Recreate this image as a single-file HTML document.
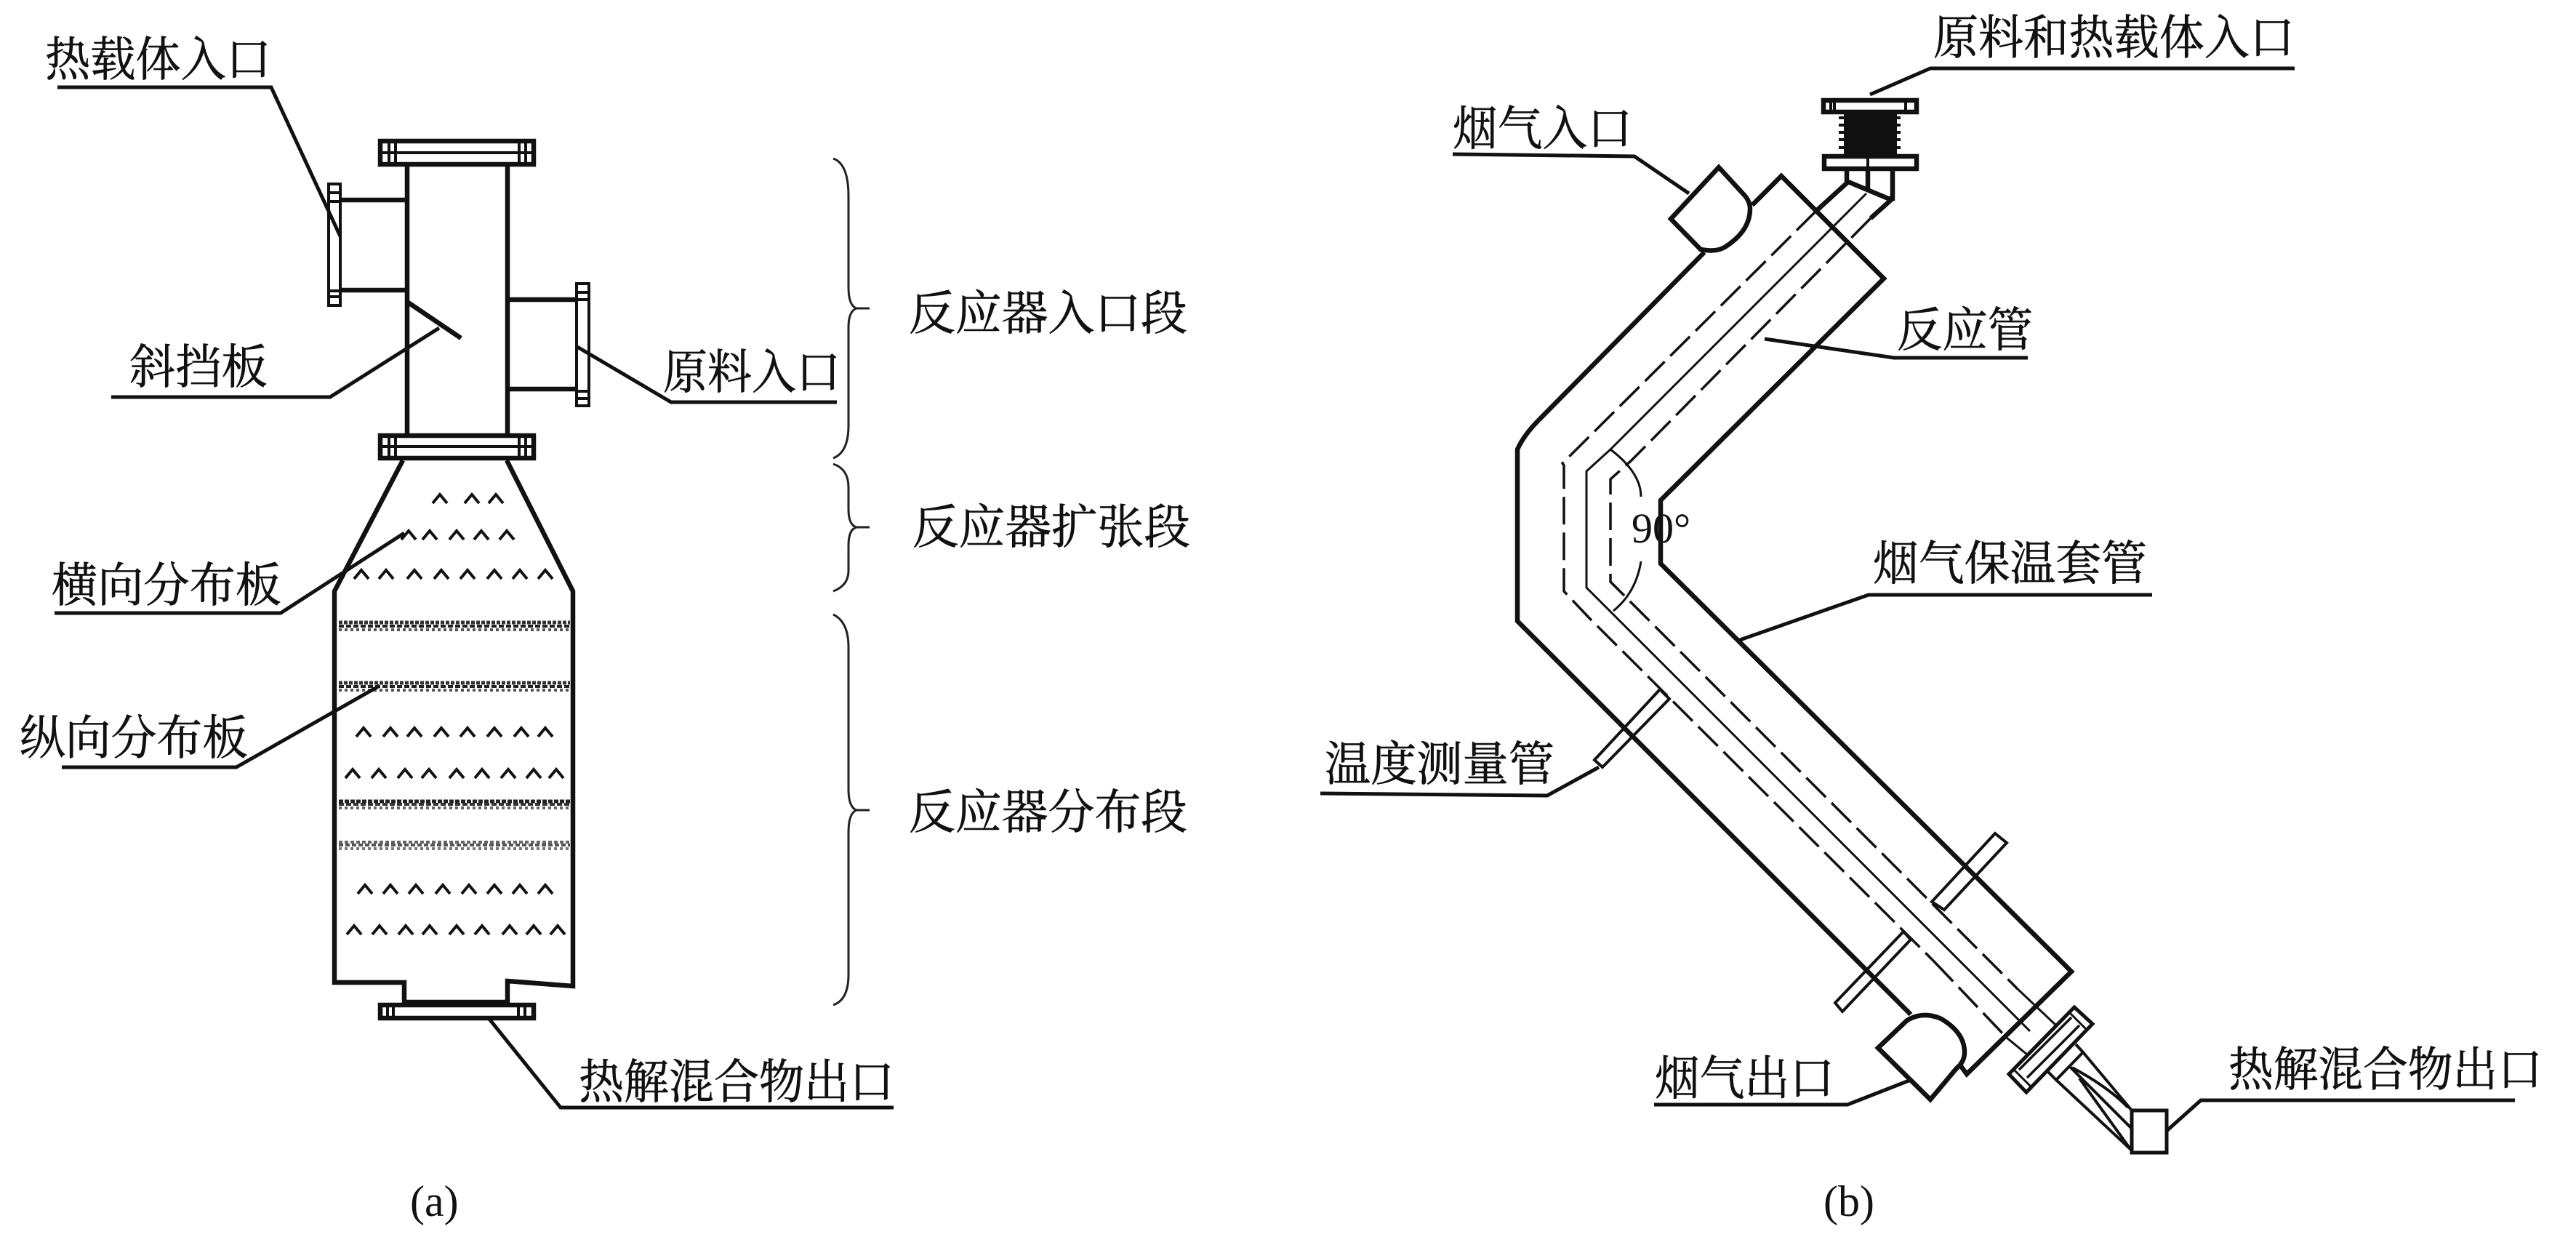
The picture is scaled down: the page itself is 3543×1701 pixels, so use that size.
<!DOCTYPE html>
<html><head><meta charset="utf-8"><style>
html,body{margin:0;padding:0;background:#fff}
svg{display:block}
.t{font-family:"Liberation Serif","Noto Serif CJK SC",serif;font-size:65px;fill:#111;stroke:#111;stroke-width:.7}
.l{font-family:"Liberation Serif",serif;font-size:60px;fill:#111}
.m{fill:none;stroke:#111;stroke-width:6.5;stroke-linejoin:miter}
.f{fill:none;stroke:#111;stroke-width:4}
.n{fill:none;stroke:#111;stroke-width:3}
.d{fill:none;stroke:#111;stroke-width:3.5;stroke-dasharray:38 11}
.ld{fill:none;stroke:#111;stroke-width:5}
.b{fill:none;stroke:#222;stroke-width:3}
</style></head><body>
<svg width="3543" height="1701" viewBox="0 0 3543 1701" xmlns="http://www.w3.org/2000/svg">
<rect width="3543" height="1701" fill="#fff"/>
<defs><path id="c" d="M-10 6 L0 -6 L10 6" fill="none" stroke="#111" stroke-width="4"/></defs>

<!-- (a) reactor -->
<path class="m" d="M560 227V597M698 227V597"/>
<rect class="m" x="523" y="194" width="211" height="32"/>
<path class="f" d="M523 210H734M535 194V226M544 194V226M714 194V226M723 194V226"/>
<rect class="m" x="523" y="599" width="211" height="31"/>
<path class="f" d="M523 614H734M535 599V630M544 599V630M714 599V630M723 599V630"/>
<path class="m" d="M468 275H560M468 399H560"/>
<rect class="f" x="452" y="253" width="16" height="167"/>
<path class="f" d="M452 265H468M452 277H468M452 400H468M452 408H468"/>
<path class="m" d="M698 412H792M698 535H792"/>
<rect class="f" x="793" y="390" width="17" height="168"/>
<path class="f" d="M793 402H810M793 412H810M793 538H810M793 548H810"/>
<path class="m" d="M560 415L634 465"/>
<path class="m" d="M554 633L460 813V1351H556V1378H698V1349L788 1356V813L697 633"/>
<rect class="m" x="523" y="1382" width="211" height="18"/>
<path class="f" d="M533 1382V1400M541 1382V1400M713 1382V1400M722 1382V1400"/>

<!-- distributor plates -->
<g fill="none">
<path d="M466 856H784" stroke="#333" stroke-width="5" stroke-dasharray="5 2"/>
<path d="M466 861H784" stroke="#222" stroke-width="4" stroke-dasharray="7 3"/>
<path d="M466 866H784" stroke="#555" stroke-width="4" stroke-dasharray="4 4"/>
<path d="M466 939H784" stroke="#333" stroke-width="5" stroke-dasharray="5 2"/>
<path d="M466 944H784" stroke="#222" stroke-width="4" stroke-dasharray="7 3"/>
<path d="M466 949H784" stroke="#555" stroke-width="4" stroke-dasharray="4 4"/>
<path d="M466 1102H784" stroke="#222" stroke-width="5" stroke-dasharray="6 2"/>
<path d="M466 1106H784" stroke="#333" stroke-width="4" stroke-dasharray="7 3"/>
<path d="M466 1111H784" stroke="#666" stroke-width="4" stroke-dasharray="4 4"/>
<path d="M466 1158H784" stroke="#666" stroke-width="4" stroke-dasharray="5 3"/>
<path d="M466 1162H784" stroke="#555" stroke-width="4" stroke-dasharray="6 3"/>
<path d="M466 1167H784" stroke="#777" stroke-width="4" stroke-dasharray="4 4"/>
</g>

<!-- chevrons -->
<use href="#c" x="605" y="686"/><use href="#c" x="649" y="686"/><use href="#c" x="682" y="686"/>
<use href="#c" x="562" y="736"/><use href="#c" x="591" y="736"/><use href="#c" x="628" y="736"/><use href="#c" x="662" y="736"/><use href="#c" x="697" y="736"/>
<use href="#c" x="497" y="790"/><use href="#c" x="531" y="790"/><use href="#c" x="570" y="790"/><use href="#c" x="607" y="790"/><use href="#c" x="643" y="790"/><use href="#c" x="680" y="790"/><use href="#c" x="715" y="790"/><use href="#c" x="750" y="790"/>
<use href="#c" x="500" y="1007"/><use href="#c" x="537" y="1007"/><use href="#c" x="570" y="1007"/><use href="#c" x="607" y="1007"/><use href="#c" x="643" y="1007"/><use href="#c" x="680" y="1007"/><use href="#c" x="717" y="1007"/><use href="#c" x="750" y="1007"/>
<use href="#c" x="485" y="1064"/><use href="#c" x="521" y="1064"/><use href="#c" x="557" y="1064"/><use href="#c" x="590" y="1064"/><use href="#c" x="628" y="1064"/><use href="#c" x="663" y="1064"/><use href="#c" x="699" y="1064"/><use href="#c" x="734" y="1064"/><use href="#c" x="765" y="1064"/>
<use href="#c" x="502" y="1223"/><use href="#c" x="537" y="1223"/><use href="#c" x="572" y="1223"/><use href="#c" x="609" y="1223"/><use href="#c" x="645" y="1223"/><use href="#c" x="680" y="1223"/><use href="#c" x="715" y="1223"/><use href="#c" x="750" y="1223"/>
<use href="#c" x="487" y="1279"/><use href="#c" x="522" y="1279"/><use href="#c" x="558" y="1279"/><use href="#c" x="591" y="1279"/><use href="#c" x="628" y="1279"/><use href="#c" x="663" y="1279"/><use href="#c" x="701" y="1279"/><use href="#c" x="734" y="1279"/><use href="#c" x="767" y="1279"/>

<!-- (a) leaders -->
<path class="ld" d="M79 120H373L468 325"/>
<path class="ld" d="M153 546H454L604 451"/>
<path class="ld" d="M794 477L923 553H1151"/>
<path class="ld" d="M75 843H386L556 733"/>
<path class="ld" d="M85 1055H325L522 943"/>
<path class="ld" d="M672 1400L771 1523H1229"/>

<!-- braces -->
<path class="b" d="M1146 218Q1167 225 1167 270V395Q1167 420 1178 424H1196M1178 424Q1167 428 1167 450V585Q1167 622 1146 630"/>
<path class="b" d="M1146 638Q1167 645 1167 670V700Q1167 722 1178 725H1196M1178 725Q1167 728 1167 750V785Q1167 805 1146 813"/>
<path class="b" d="M1146 845Q1167 855 1167 890V1085Q1167 1110 1178 1114H1196M1178 1114Q1167 1118 1167 1145V1340Q1167 1375 1146 1382"/>

<!-- (a) labels -->
<text class="t" x="62" y="104" textLength="311" lengthAdjust="spacingAndGlyphs">热载体入口</text>
<text class="t" x="178" y="527" textLength="190" lengthAdjust="spacingAndGlyphs">斜挡板</text>
<text class="t" x="912" y="534" textLength="244" lengthAdjust="spacingAndGlyphs">原料入口</text>
<text class="t" x="71" y="827" textLength="316" lengthAdjust="spacingAndGlyphs">横向分布板</text>
<text class="t" x="27" y="1037" textLength="314" lengthAdjust="spacingAndGlyphs">纵向分布板</text>
<text class="t" x="796" y="1510" textLength="434" lengthAdjust="spacingAndGlyphs">热解混合物出口</text>
<text class="t" x="1250" y="453" textLength="383" lengthAdjust="spacingAndGlyphs">反应器入口段</text>
<text class="t" x="1255" y="747" textLength="382" lengthAdjust="spacingAndGlyphs">反应器扩张段</text>
<text class="t" x="1250" y="1139" textLength="383" lengthAdjust="spacingAndGlyphs">反应器分布段</text>
<text class="l" x="564" y="1672">(a)</text>

<!-- (b) shell -->
<path class="m" d="M2410 282L2450 242L2591 383L2284 688V775L2849 1336L2705 1477L2697 1466"/>
<path class="m" d="M2344 347L2117 577Q2096 598 2087 618V854L2628 1395"/>
<!-- flue inlet -->
<path class="m" d="M2364 230L2298 301L2339 343Q2360 347 2372 340Q2407 318 2407 287Q2407 276 2397 266Z" style="fill:#fff"/>
<!-- flue outlet -->
<path class="m" d="M2583 1441L2623 1403Q2645 1390 2670 1401Q2702 1420 2702 1447Q2702 1460 2691 1469L2655 1512Z" style="fill:#fff"/>

<!-- inner pipe lines -->
<path class="n" d="M2567 266L2215 618L2182 648V808L2792 1418"/>
<path class="d" d="M2498 290L2149 637L2151 640V813L2186 850L2660 1322"/>
<path class="n" d="M2760 1427L2788 1450"/>
<path class="d" d="M2573 300L2244 633L2215 659V800L2265 850L2775 1360"/>
<path class="n" d="M2775 1360L2828 1410"/>
<path class="d" d="M2660 1322L2760 1427"/>
<!-- 90 arc -->
<path class="n" d="M2215 618Q2257 650 2257 683M2257 772Q2250 815 2219 840"/>
<text class="l" x="2244" y="746" style="font-size:58px">90°</text>

<!-- top inlet -->
<path class="m" d="M2542 250L2498 290M2603 273L2573 300"/>
<rect x="2536" y="152" width="73" height="62" fill="#111"/>
<path d="M2529 162H2536M2529 172H2536M2529 182H2536M2529 192H2536M2529 203H2536M2609 162H2614M2609 172H2614M2609 182H2614M2609 192H2614M2609 203H2614" stroke="#111" stroke-width="4" fill="none"/>
<rect class="m" x="2508" y="138" width="128" height="16" style="fill:#fff"/>
<path class="f" d="M2523 138V154M2518 138V154M2621 138V154"/>
<rect class="m" x="2509" y="215" width="127" height="17" style="fill:#fff"/>
<path class="f" d="M2569 215V232"/>
<path class="m" d="M2540 233V250L2542 250L2597 273L2603 273V233M2569 233V263"/>

<!-- temp tube and side tubes -->
<path class="f" d="M2193 1045L2283 948L2296 961L2204 1055Z"/>
<path class="f" d="M2744 1146L2760 1159L2674 1251L2657 1240Z"/>
<path class="f" d="M2618 1281L2628 1292L2534 1391L2524 1379Z"/>

<!-- bottom outlet -->
<path class="f" d="M2853 1385L2878 1408L2787 1502L2763 1477Z" style="fill:#fff;stroke-width:5"/>
<path class="f" d="M2777 1471L2849 1399M2788 1482L2860 1410" style="stroke-width:3.5"/>
<path class="f" d="M2846 1392L2870 1416M2771 1472L2794 1495" style="stroke-width:3"/>
<path class="f" d="M2855 1436L2865 1447L2828 1485L2817 1474"/>
<path class="f" d="M2865 1447L2932 1527M2828 1485L2932 1582M2847 1467L2932 1552M2850 1468Q2900 1495 2927 1523M2860 1483L2930 1580"/>
<rect class="f" x="2932" y="1527" width="48" height="58" style="stroke-width:5"/>

<!-- (b) leaders -->
<path class="ld" d="M3156 94H2655L2572 130"/>
<path class="ld" d="M1998 212L2248 215L2323 266"/>
<path class="ld" d="M2427 466L2605 492H2789"/>
<path class="ld" d="M2960 818H2570L2393 880"/>
<path class="ld" d="M1816 1091L2128 1094L2199 1055"/>
<path class="ld" d="M2275 1519H2541L2628 1485"/>
<path class="ld" d="M3459 1513H3027L2980 1555"/>

<!-- (b) labels -->
<text class="t" x="2659" y="74" textLength="497" lengthAdjust="spacingAndGlyphs">原料和热载体入口</text>
<text class="t" x="1998" y="199" textLength="247" lengthAdjust="spacingAndGlyphs">烟气入口</text>
<text class="t" x="2609" y="476" textLength="187" lengthAdjust="spacingAndGlyphs">反应管</text>
<text class="t" x="2576" y="797" textLength="377" lengthAdjust="spacingAndGlyphs">烟气保温套管</text>
<text class="t" x="1822" y="1073" textLength="316" lengthAdjust="spacingAndGlyphs">温度测量管</text>
<text class="t" x="2276" y="1505" textLength="247" lengthAdjust="spacingAndGlyphs">烟气出口</text>
<text class="t" x="3065" y="1493" textLength="432" lengthAdjust="spacingAndGlyphs">热解混合物出口</text>
<text class="l" x="2508" y="1672">(b)</text>
</svg>
</body></html>
